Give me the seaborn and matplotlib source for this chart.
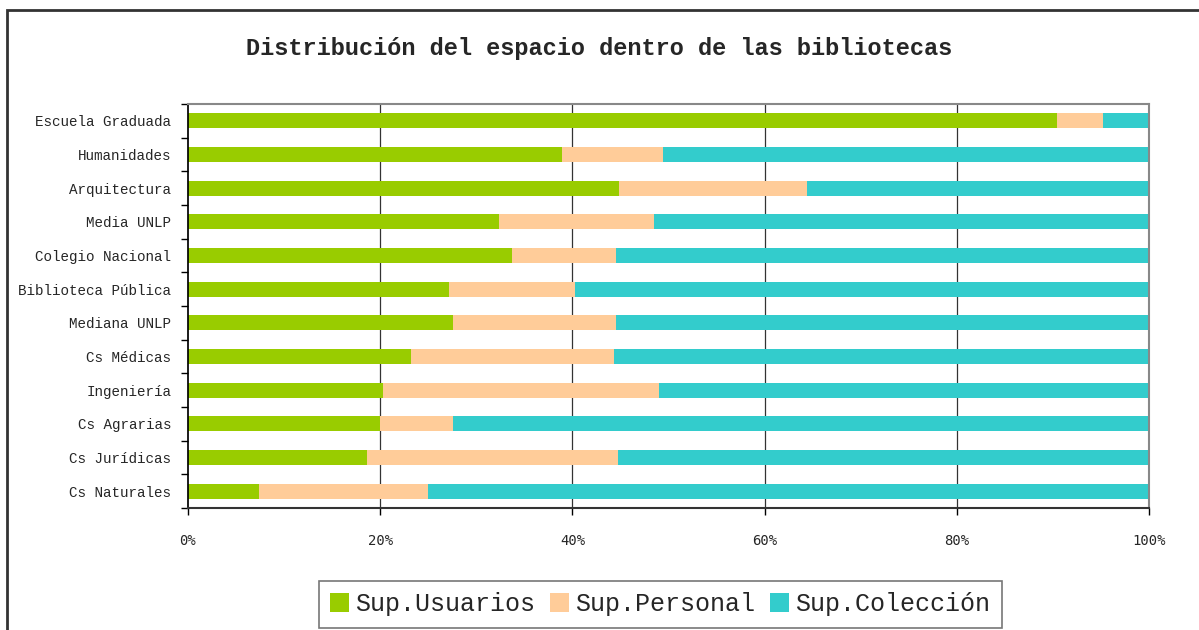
import matplotlib
matplotlib.use("Agg")
import matplotlib.pyplot as plt
import seaborn as sns
import pandas as pd
from matplotlib.patches import Patch, Rectangle

categorias = ["Escuela Graduada", "Humanidades", "Arquitectura", "Media UNLP",
              "Colegio Nacional", "Biblioteca Pública", "Mediana UNLP", "Cs Médicas",
              "Ingeniería", "Cs Agrarias", "Cs Jurídicas", "Cs Naturales"]
sup_usuarios = [0.904, 0.389, 0.449, 0.324, 0.337, 0.272, 0.276, 0.232, 0.203, 0.200, 0.186, 0.074]
sup_personal = [0.048, 0.105, 0.195, 0.161, 0.108, 0.131, 0.169, 0.211, 0.287, 0.076, 0.261, 0.176]
sup_coleccion = [1 - u - p for u, p in zip(sup_usuarios, sup_personal)]
series = ["Sup.Usuarios", "Sup.Personal", "Sup.Colección"]
colores = ["#99CC00", "#FFCC99", "#33CCCC"]
xticks = [0, 0.2, 0.4, 0.6, 0.8, 1.0]
xticklabels = ["0%", "20%", "40%", "60%", "80%", "100%"]

sns.set_theme(style="white")
plt.rcParams["font.family"] = ["Liberation Mono", "DejaVu Sans Mono"]

df = pd.DataFrame({"cat": categorias, "u": sup_usuarios, "p": sup_personal, "c": sup_coleccion})
df["up"] = df["u"] + df["p"]
df["upc"] = df["up"] + df["c"]

fig = plt.figure(figsize=(11.99, 6.30), dpi=100)
ax = fig.add_axes([188/1199, 1-508/630, (1149-188)/1199, (508-104)/630])

sns.barplot(data=df, x="upc", y="cat", color=colores[2], width=0.45, ax=ax, orient="h", saturation=1)
sns.barplot(data=df, x="up", y="cat", color=colores[1], width=0.45, ax=ax, orient="h", saturation=1)
sns.barplot(data=df, x="u", y="cat", color=colores[0], width=0.45, ax=ax, orient="h", saturation=1)
for p in ax.patches:
    p.set_linewidth(0)

ax.set_xlim(0, 1)
ax.set_ylim(len(categorias) - 0.5, -0.5)
ax.set_xlabel("")
ax.set_ylabel("")
ax.set_xticks(xticks)
ax.set_xticklabels(xticklabels, fontsize=10, family="DejaVu Sans Mono")
ax.set_yticks(range(len(categorias)))
ax.set_yticklabels(categorias, fontsize=10.3)
ax.set_yticks([i - 0.5 for i in range(len(categorias) + 1)], minor=True)
ax.tick_params(axis="y", which="major", length=0, pad=12)
ax.tick_params(axis="y", which="minor", length=5, width=1, color="black", direction="out", left=True)
ax.tick_params(axis="x", which="major", length=5, width=1, color="black", direction="out", bottom=True, pad=14)
for x in xticks[1:-1]:
    ax.axvline(x, color="#333333", linewidth=0.9, zorder=0)
ax.set_axisbelow(True)
ax.spines["left"].set_color("black")
ax.spines["bottom"].set_color("#333333")
ax.spines["bottom"].set_linewidth(1.5)
ax.spines["top"].set_color("#888888")
ax.spines["right"].set_color("#888888")
ax.spines["top"].set_linewidth(1.5)
ax.spines["right"].set_linewidth(1.5)

fig.text(0.5, 1 - 49/630, "Distribución del espacio dentro de las bibliotecas",
         ha="center", va="center", fontsize=17, fontweight="bold")

handles = [Patch(facecolor=c, edgecolor="none") for c in colores]
leg = fig.legend(handles, series, loc="upper left", bbox_to_anchor=(319/1199, 1 - 581/630),
                 ncol=3, frameon=True, fontsize=18, handlelength=0.75, handleheight=0.75,
                 columnspacing=0.6, handletextpad=0.25, borderpad=0.45, borderaxespad=0,
                 fancybox=False)
leg.get_frame().set_edgecolor("#555555")
leg.get_frame().set_linewidth(1.2)

fig.patches.append(Rectangle((7/1199, -0.05), 1.1, 1 - 10/630 + 0.05, transform=fig.transFigure,
                             fill=False, edgecolor="#333333", linewidth=2, figure=fig))

fig.savefig("out.png", dpi=100)
